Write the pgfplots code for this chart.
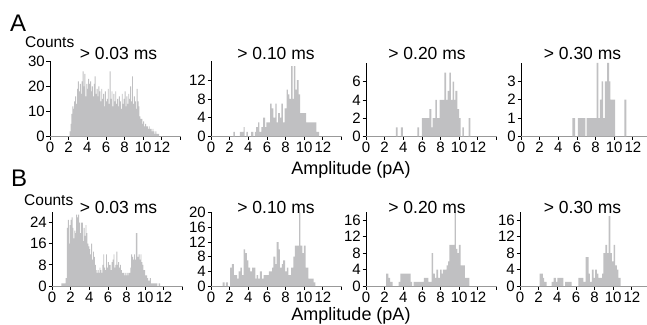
\documentclass[border=0pt]{standalone}
\usepackage{pgfplots}
\pgfplotsset{compat=1.18}
\usepackage{fontspec}
\setmainfont{Liberation Sans}
\definecolor{histgray}{RGB}{192,192,194}
\pgfplotsset{
  hist/.style={
    scale only axis, width=130.5pt, anchor=south west,
    xmin=0, xmax=14, ymin=0,
    axis lines=left,
    axis line style={-, line width=0.8pt, black},
    x axis line style={draw=black!40},
    xtick={0,2,4,6,8,10,12,14},
    xticklabels={0,2,4,6,8,10,12,},
    tick align=outside, major tick length=3.5pt,
    tick style={black, line width=0.8pt},
    ticklabel style={font=\fontsize{15}{15}\selectfont},
    xticklabel style={inner sep=1pt, yshift=-1pt},
    yticklabel style={inner sep=1.5pt},
    /pgf/number format/assume math mode=true,
  },
  bars/.style={const plot, fill=histgray, draw=none},
}
\begin{document}
\begin{tikzpicture}
\useasboundingbox (0,0) rectangle (647pt,324pt);
\clip (0,0) rectangle (647pt,324pt);
\node[anchor=base west, font=\fontsize{24}{24}\selectfont, inner sep=0] at (10pt,292pt) {A};
\node[anchor=base west, font=\fontsize{24}{24}\selectfont, inner sep=0] at (11pt,137.5pt) {B};
\node[anchor=base west, font=\fontsize{15.5}{15.5}\selectfont, inner sep=0] at (25pt,276pt) {Counts};
\node[anchor=base west, font=\fontsize{15.5}{15.5}\selectfont, inner sep=0] at (24pt,118pt) {Counts};
\node[anchor=base, font=\fontsize{18}{18}\selectfont, inner sep=0] at (351pt,149.5pt) {Amplitude (pA)};
\node[anchor=base, font=\fontsize{18}{18}\selectfont, inner sep=0] at (351pt,3.5pt) {Amplitude (pA)};
% ---------- Row A ----------
\begin{axis}[hist, at={(50pt,187.5pt)}, height=75pt, ymax=30, ytick={0,10,20,30}]
\addplot[bars] coordinates {(2.1,2)(2.2,5)(2.3,9)(2.4,12)(2.5,11)(2.6,14)(2.7,16)(2.8,13)(2.9,19)(3.0,22)(3.1,18)(3.2,21)(3.3,17)(3.4,22)(3.5,26)(3.6,20)(3.7,25)(3.8,16)(3.9,21)(4.0,19)(4.1,23)(4.2,21)(4.3,22)(4.4,18)(4.5,20)(4.6,16)(4.7,21)(4.8,24)(4.9,17)(5.0,19)(5.1,16)(5.2,20)(5.3,18)(5.4,14)(5.5,19)(5.6,15)(5.7,17)(5.8,12)(5.9,18)(6.0,14)(6.1,15)(6.2,19)(6.3,13)(6.4,26)(6.5,15)(6.6,18)(6.7,12)(6.8,17)(6.9,14)(7.0,18)(7.1,13)(7.2,15)(7.3,12)(7.4,16)(7.5,14)(7.6,11)(7.7,17)(7.8,13)(7.9,15)(8.0,18)(8.1,12)(8.2,16)(8.3,13)(8.4,17)(8.5,15)(8.6,20)(8.7,14)(8.8,24)(8.9,13)(9.0,16)(9.1,14)(9.2,11)(9.3,19)(9.4,14)(9.5,12)(9.6,8)(9.7,7)(9.8,7)(9.9,5)(10.0,6)(10.1,4)(10.2,5)(10.3,4)(10.4,4)(10.5,3)(10.6,4)(10.7,3)(10.8,3)(10.9,2)(11.0,3)(11.1,2)(11.2,1)(11.3,2)(11.4,1)(11.5,1)(11.6,1)(11.7,0)} \closedcycle;
\end{axis}
\begin{axis}[hist, at={(211pt,187.5pt)}, height=75pt, ymax=16, ytick={0,4,8,12}]
\addplot[bars] coordinates {(2.3,0)(2.4,1)(2.55,0)(3.1,1)(3.5,2)(3.6,0)(3.8,1)(3.95,0)(4.3,1)(4.55,0)(4.7,1)(4.85,2)(5.05,3)(5.2,1)(5.4,2)(5.6,4)(5.8,2)(5.95,3)(6.35,7)(6.5,6)(6.7,4)(6.9,7)(7.05,3)(7.2,5)(7.4,4)(7.55,7)(7.7,3)(7.9,6)(8.1,10)(8.25,9)(8.4,8)(8.6,15)(8.75,8)(8.9,15)(9.05,10)(9.2,12)(9.4,9)(9.55,5)(10.2,3)(11.3,1)(11.6,0)} \closedcycle;
\end{axis}
\begin{axis}[hist, at={(366pt,187.5pt)}, height=73pt, ymax=8, ytick={0,2,4,6}]
\addplot[bars] coordinates {(3.2,1)(3.4,0)(3.75,1)(3.95,0)(5.5,1)(5.7,0)(6.0,2)(6.8,3)(7.0,1)(7.15,2)(7.45,4)(7.6,2)(7.9,4)(8.4,7)(8.6,4)(8.75,5)(8.95,7)(9.1,4)(9.3,6)(9.45,4)(9.6,5)(9.8,3)(10.0,2)(10.15,0)(10.35,1)(10.5,0)(11.0,2)(11.2,0)} \closedcycle;
\end{axis}
\begin{axis}[hist, at={(521pt,187.5pt)}, height=73.5pt, ymax=4, ytick={0,1,2,3}]
\addplot[bars] coordinates {(5.5,1)(5.8,0)(6.1,1)(6.9,0)(7.05,1)(8.1,4)(8.3,1)(8.45,2)(8.65,3)(8.8,1)(9.0,3)(9.25,4)(9.45,3)(9.6,2)(10.1,0)(11.1,2)(11.3,0)} \closedcycle;
\end{axis}
% ---------- Row B ----------
\begin{axis}[hist, at={(52pt,38pt)}, height=74pt, ymax=28, ytick={0,8,16,24}]
\addplot[bars] coordinates {(1.0,1)(1.45,3)(1.6,22)(1.7,25)(1.8,16)(1.9,23)(2.0,25)(2.1,26)(2.2,22)(2.3,18)(2.4,21)(2.5,20)(2.6,27)(2.7,26)(2.8,27)(2.9,24)(3.0,20)(3.1,24)(3.2,24)(3.3,17)(3.4,22)(3.5,19)(3.6,23)(3.7,20)(3.8,16)(3.9,15)(4.0,14)(4.1,12)(4.2,16)(4.3,10)(4.4,13)(4.5,11)(4.6,8)(4.7,6)(4.8,5)(4.9,6)(5.0,5)(5.1,7)(5.2,6)(5.3,5)(5.4,8)(5.5,12)(5.6,7)(5.7,6)(5.8,12)(5.9,7)(6.0,9)(6.1,8)(6.2,8)(6.3,6)(6.4,9)(6.5,10)(6.6,12)(6.7,7)(6.8,8)(6.9,13)(7.0,8)(7.1,9)(7.2,7)(7.3,8)(7.4,6)(7.5,5)(7.6,5)(7.7,4)(7.8,5)(7.9,4)(8.0,5)(8.1,4)(8.2,5)(8.3,5)(8.4,7)(8.5,12)(8.6,11)(8.7,10)(8.8,12)(8.9,10)(9.0,20)(9.15,11)(9.3,12)(9.4,10)(9.5,12)(9.6,9)(9.7,8)(9.8,6)(9.9,6)(10.0,4)(10.1,4)(10.2,3)(10.3,2)(10.4,2)(10.5,3)(10.6,1)(11.0,1)(11.3,0)(11.45,1)(11.6,0)} \closedcycle;
\end{axis}
\begin{axis}[hist, at={(211pt,38pt)}, height=74pt, ymax=20.2, ytick={0,4,8,12,16,20}]
\addplot[bars] coordinates {(1.25,1)(1.45,0)(1.6,1)(1.8,0)(2.05,5)(2.25,6)(2.45,3)(2.8,2)(2.95,4)(3.15,5)(3.3,3)(3.5,10)(3.65,9)(3.85,7)(4.0,5)(4.2,4)(4.4,5)(4.75,2)(4.9,3)(5.05,2)(5.25,4)(5.45,2)(5.65,3)(5.85,3)(6.2,4)(6.55,5)(6.7,8)(6.9,6)(7.05,12)(7.25,10)(7.4,5)(7.6,6)(7.75,7)(7.95,4)(8.15,5)(8.3,3)(8.6,5)(8.85,8)(9.0,11)(9.45,20)(9.6,11)(9.8,9)(9.95,11)(10.15,5)(10.45,2)(10.75,2)(11.0,1)(11.2,0)} \closedcycle;
\end{axis}
\begin{axis}[hist, at={(366pt,38pt)}, height=74pt, ymax=18, ytick={0,4,8,12,16}]
\addplot[bars] coordinates {(2.15,3)(2.4,2)(2.6,1)(2.85,0)(3.5,1)(3.7,3)(4.8,1)(4.95,0)(5.1,1)(6.2,2)(6.7,1)(7.05,8)(7.2,3)(7.4,2)(7.55,4)(7.75,2)(7.95,4)(8.1,3)(8.25,4)(8.65,5)(8.8,6)(8.95,10)(9.5,18)(9.65,9)(9.8,8)(9.95,10)(10.15,5)(10.6,2)(11.1,0)} \closedcycle;
\end{axis}
\begin{axis}[hist, at={(520pt,38pt)}, height=74pt, ymax=18, ytick={0,4,8,12,16}]
\addplot[bars] coordinates {(2.1,3)(2.45,2)(2.6,1)(2.85,0)(3.4,1)(3.6,2)(3.85,1)(4.0,2)(4.65,0)(4.85,1)(5.55,0)(6.25,2)(6.8,1)(7.05,7)(7.35,3)(7.5,1)(7.7,4)(7.9,2)(8.05,4)(8.25,3)(8.4,2)(8.8,3)(8.95,8)(9.15,10)(9.35,8)(9.5,17)(9.7,8)(9.85,6)(10.05,10)(10.2,5)(10.4,4)(10.55,2)(10.8,0)} \closedcycle;
\end{axis}
% ---------- Titles ----------
\foreach \tx/\ty/\tt in {118.5/264.7/0.03, 276/264.7/0.10, 427/264.7/0.20, 582.5/264/0.30, 118.5/110.7/0.03, 276/110.7/0.10, 427/110.7/0.20, 582.5/110.7/0.30}
  \node[anchor=base, font=\fontsize{17.5}{17.5}\selectfont, inner sep=0] at (\tx pt,\ty pt) {> \tt\ ms};
\end{tikzpicture}
\end{document}
